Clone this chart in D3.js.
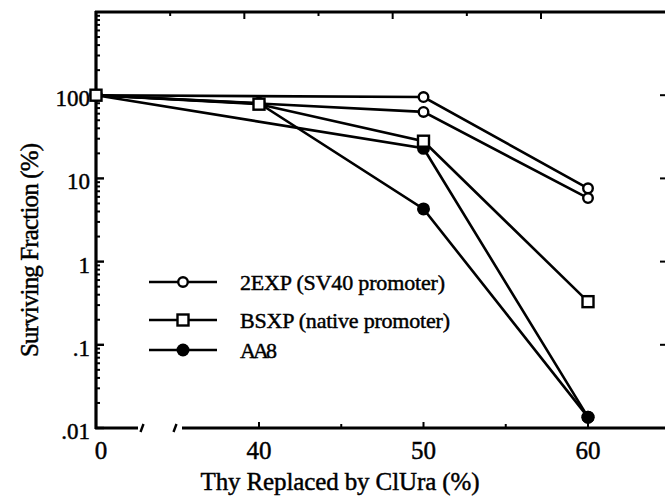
<!DOCTYPE html>
<html>
<head>
<meta charset="utf-8">
<script src="https://cdn.jsdelivr.net/npm/d3@7"></script>
<style>
  body { margin: 0; background: #fff; }
</style>
</head>
<body>
<div id="chart"></div>
<script>
// survival curves, values
var xTicks = [0, 40, 50, 60];
var xMinor = [45, 55];
var yTicks = [0.01, 0.1, 1, 10, 100];
var yLabels = [".01", ".1", "1", "10", "100"];

// 2EXP clones (open circles) - no marker at 40, lines go straight to 50
var exp1X = [0, 50, 60];
var exp1Y = [100, 95, 7.6];
var exp2X = [0, 50, 60];
var exp2Y = [100, 63, 5.8];
// BSXP (open squares)
var bsxpX = [0, 40, 50, 60];
var bsxpY = [100, 78, 28, 0.33];
// AA8 (filled circles)
var aa1X = [0, 50, 60];
var aa1Y = [100, 23, 0.0135];
var aa2X = [0, 40, 50, 60];
var aa2Y = [100, 80, 4.3, 0.0135];

var legendNames = ["2EXP  (SV40 promoter)", "BSXP (native promoter)", "AA8"];
var legendMarks = ["circle", "square", "dot"];
var legendWidths = [205, 210, 37];

var svgWidth = 665, svgHeight = 499;
var svg = d3.select("#chart").append("svg")
  .attr("width", svgWidth)
  .attr("height", svgHeight);

// broken x axis: 0 sits at the corner, 40..60 spread out
var xScale = d3.scaleLinear().domain([0, 40, 60]).range([96, 259, 588]);
var yScale = d3.scaleLog().domain([0.01, 1000]).range([428, 12]);
// top frame has its own evenly spaced ticks
var topScale = d3.scaleLinear().domain([0, 6]).range([96, 541]);

var lw = 2.6;

function txt(x, y, s, size, anchor, len) {
  var t = svg.append("text")
    .attr("x", x).attr("y", y)
    .attr("text-anchor", anchor || "start")
    .attr("stroke", "#000").attr("stroke-width", 0.45)
    .style("font-family", "Liberation Serif")
    .style("font-size", size + "px")
    .text(s);
  if (len) t.attr("textLength", len).attr("lengthAdjust", "spacing");
  return t;
}

// frame
svg.append("line").attr("x1", 96).attr("x2", 96).attr("y1", 11).attr("y2", 429)
  .attr("stroke", "#000").attr("stroke-width", 3.2);
svg.append("line").attr("x1", 95).attr("x2", 665).attr("y1", 12).attr("y2", 12)
  .attr("stroke", "#000").attr("stroke-width", 3);
svg.append("line").attr("x1", 95).attr("x2", 138).attr("y1", 428).attr("y2", 428)
  .attr("stroke", "#000").attr("stroke-width", 3);
svg.append("line").attr("x1", 182).attr("x2", 665).attr("y1", 428).attr("y2", 428)
  .attr("stroke", "#000").attr("stroke-width", 3);
// break marks
[142, 175].forEach(function(bx) {
  svg.append("line").attr("x1", bx - 1.5).attr("x2", bx + 1.5).attr("y1", 432).attr("y2", 424)
    .attr("stroke", "#000").attr("stroke-width", 2.4);
});

// left axis ticks (log minor + major)
var minorY = [];
for (var e = -2; e < 3; e++) {
  for (var m = 2; m < 10; m++) minorY.push(m * Math.pow(10, e));
}
svg.selectAll(".ymin").data(minorY).enter().append("line")
  .attr("x1", 96).attr("x2", 100)
  .attr("y1", d => yScale(d)).attr("y2", d => yScale(d))
  .attr("stroke", "#000").attr("stroke-width", 2);
svg.selectAll(".ymaj").data(yTicks).enter().append("line")
  .attr("x1", 96).attr("x2", 104)
  .attr("y1", d => yScale(d)).attr("y2", d => yScale(d))
  .attr("stroke", "#000").attr("stroke-width", 2.4);
// right side ticks
svg.selectAll(".yright").data([0.1, 1, 10, 100]).enter().append("line")
  .attr("x1", 660).attr("x2", 665)
  .attr("y1", d => yScale(d)).attr("y2", d => yScale(d))
  .attr("stroke", "#000").attr("stroke-width", 2);

yTicks.forEach(function(d, i) {
  txt(90, yScale(d) + 11, yLabels[i], 23, "end");
});

// bottom ticks
svg.selectAll(".xmaj").data(xTicks.slice(1)).enter().append("line")
  .attr("x1", d => xScale(d)).attr("x2", d => xScale(d))
  .attr("y1", 428).attr("y2", 422)
  .attr("stroke", "#000").attr("stroke-width", 2);
svg.selectAll(".xmin").data(xMinor).enter().append("line")
  .attr("x1", d => xScale(d)).attr("x2", d => xScale(d))
  .attr("y1", 428).attr("y2", 424)
  .attr("stroke", "#000").attr("stroke-width", 2);
xTicks.forEach(function(d) {
  txt(d === 0 ? 101 : xScale(d), 459, d, 25, "middle");
});

// top ticks
svg.selectAll(".ttick").data(d3.range(1, 7)).enter().append("line")
  .attr("x1", d => topScale(d)).attr("x2", d => topScale(d))
  .attr("y1", 12).attr("y2", d => d % 2 === 0 ? 19 : 16)
  .attr("stroke", "#000").attr("stroke-width", 2);

// axis titles
txt(340, 490, "Thy Replaced by ClUra (%)", 25, "middle", 279);
txt(0, 0, "Surviving Fraction (%)", 25, "middle", 214)
  .attr("transform", "translate(38, 250) rotate(-90)");

// series
var line = d3.line().x(d => xScale(d[0])).y(d => yScale(d[1]));
function pts(xs, ys) { return xs.map((x, i) => [x, ys[i]]); }

var aaSeries = [pts(aa1X, aa1Y), pts(aa2X, aa2Y)];
var expSeries = [pts(exp1X, exp1Y), pts(exp2X, exp2Y)];
var bsSeries = [pts(bsxpX, bsxpY)];

function drawLines(series) {
  series.forEach(function(s) {
    svg.append("path").attr("d", line(s))
      .attr("fill", "none").attr("stroke", "#000").attr("stroke-width", lw);
  });
}
drawLines(aaSeries);
drawLines(expSeries);
drawLines(bsSeries);

function marker(g, kind, x, y) {
  if (kind === "circle") {
    g.append("circle").attr("cx", x).attr("cy", y).attr("r", 4.8)
      .attr("fill", "#fff").attr("stroke", "#000").attr("stroke-width", 2.4);
  } else if (kind === "square") {
    g.append("rect").attr("x", x - 5.5).attr("y", y - 5.5).attr("width", 11).attr("height", 11)
      .attr("fill", "#fff").attr("stroke", "#000").attr("stroke-width", 2.4);
  } else {
    g.append("circle").attr("cx", x).attr("cy", y).attr("r", 6.5).attr("fill", "#000");
  }
}
aaSeries.forEach(s => s.forEach(p => marker(svg, "dot", xScale(p[0]), yScale(p[1]))));
expSeries.forEach(s => s.forEach(p => marker(svg, "circle", xScale(p[0]), yScale(p[1]))));
bsSeries.forEach(s => s.forEach(p => marker(svg, "square", xScale(p[0]), yScale(p[1]))));

// legend
var legendY = [282, 320, 350];
legendNames.forEach(function(name, i) {
  var y = legendY[i];
  svg.append("line").attr("x1", 149).attr("x2", 217).attr("y1", y).attr("y2", y)
    .attr("stroke", "#000").attr("stroke-width", lw);
  marker(svg, legendMarks[i], 183, y);
  txt(240, y + 8, name, 22, "start", legendWidths[i]);
});
</script>
</body>
</html>
